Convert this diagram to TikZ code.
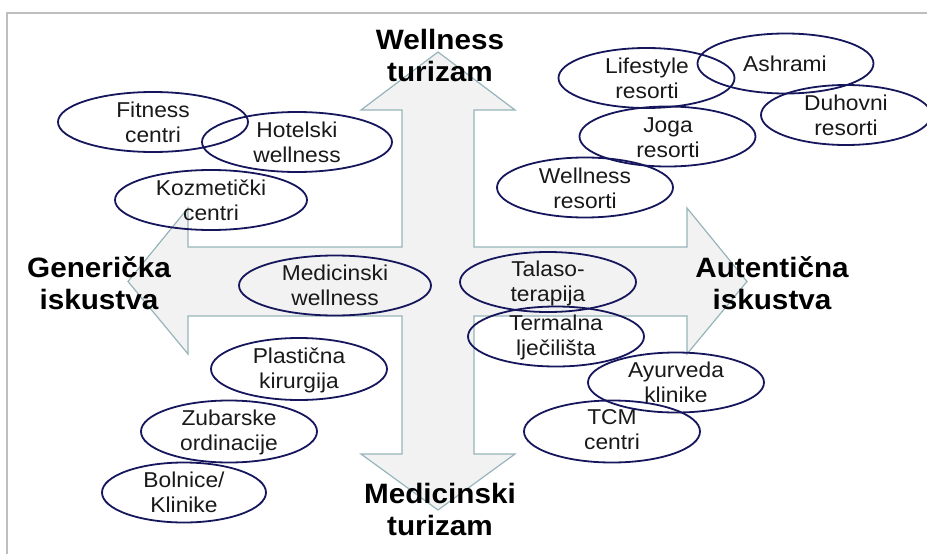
\documentclass[tikz,border=0pt]{standalone}
\usepackage{fontspec}
\setmainfont{Liberation Sans}[FakeStretch=1.06]
\definecolor{navy}{RGB}{22,22,92}
\definecolor{arrowline}{RGB}{150,180,186}
\definecolor{arrowfill}{RGB}{242,242,242}
\definecolor{framegray}{RGB}{190,190,190}
\definecolor{txtdark}{RGB}{25,25,25}
\begin{document}
\begin{tikzpicture}[x=1pt,y=-1pt,
  itemtext/.style={font=\fontsize{21.5}{25}\selectfont, align=center, text=txtdark, inner sep=0pt},
  bigtext/.style={font=\fontsize{28}{32}\selectfont\bfseries, align=center, text=black, inner sep=0pt},
  ell/.style={draw=navy, line width=1.8pt},
  crossarrow/.style={draw=arrowline, fill=arrowfill, line width=1.2pt, line join=miter}]
\useasboundingbox (0,0) rectangle (927,554);
% frame
\draw[framegray, line width=1.5pt] (7,554) -- (7,13) -- (927,13);
% cross arrow
\draw[crossarrow] (438,52) -- (515,110) -- (474,110) -- (474,247) -- (687,247) -- (687,208) -- (747,281.5) -- (687,354) -- (687,316) -- (474,316) -- (474,454) -- (515,454) -- (438,510) -- (361,454) -- (402,454) -- (402,316) -- (188,316) -- (188,354) -- (128,281.5) -- (188,208) -- (188,247) -- (402,247) -- (402,110) -- (361,110) -- cycle;
% axis labels
\node[bigtext] (wt) at (440,55) {Wellness\\turizam};
\node[bigtext] (mt) at (440,509) {Medicinski\\turizam};
\node[bigtext] (gi) at (99,283) {Generička\\iskustva};
\node[bigtext] (ai) at (772,283) {Autentična\\iskustva};
% items
\node[itemtext] (fit) at (153,122) {Fitness\\centri};
\node[itemtext] (hot) at (297,142) {Hotelski\\wellness};
\node[itemtext] (koz) at (211,200) {Kozmetički\\centri};
\node[itemtext] (medw) at (335,285) {Medicinski\\wellness};
\node[itemtext] (plas) at (299,370) {Plastična\\kirurgija};
\node[itemtext] (zub) at (229,432) {Zubarske\\ordinacije};
\node[itemtext] (bol) at (184,492) {Bolnice/\\Klinike};
\node[itemtext] (tal) at (548,283) {Talaso-\\terapija};
\node[itemtext] (ter) at (556,337) {Termalna\\lječilišta};
\node[itemtext] (ayu) at (676,382) {Ayurveda\\klinike};
\node[itemtext] (tcm) at (612,430) {TCM\\centri};
\node[itemtext] (wres) at (585,188) {Wellness\\resorti};
\node[itemtext] (joga) at (668,138) {Joga\\resorti};
\node[itemtext] (life) at (647,78) {Lifestyle\\resorti};
\node[itemtext] (ash) at (785,64) {Ashrami};
\node[itemtext] (duh) at (846,115) {Duhovni\\resorti};
% ellipses
\draw[ell] (153,122) ellipse [x radius=95pt, y radius=30pt];
\draw[ell] (297,142) ellipse [x radius=95pt, y radius=30pt];
\draw[ell] (211,200) ellipse [x radius=96pt, y radius=30pt];
\draw[ell] (335,285.5) ellipse [x radius=96pt, y radius=30pt];
\draw[ell] (299,369) ellipse [x radius=88pt, y radius=31pt];
\draw[ell] (229,431.5) ellipse [x radius=88pt, y radius=31pt];
\draw[ell] (184,492.5) ellipse [x radius=82pt, y radius=30pt];
\draw[ell] (548,282) ellipse [x radius=88pt, y radius=30pt];
\draw[ell] (556,336.5) ellipse [x radius=88pt, y radius=30pt];
\draw[ell] (676,382.5) ellipse [x radius=88pt, y radius=30pt];
\draw[ell] (612,431.5) ellipse [x radius=88pt, y radius=31pt];
\draw[ell] (585,187.5) ellipse [x radius=88pt, y radius=30pt];
\draw[ell] (667.5,136.5) ellipse [x radius=88pt, y radius=30pt];
\draw[ell] (646.5,78) ellipse [x radius=88pt, y radius=30pt];
\draw[ell] (785.5,63.5) ellipse [x radius=88pt, y radius=30pt];
\draw[ell] (846,115) ellipse [x radius=85pt, y radius=30pt];
\end{tikzpicture}
\end{document}
